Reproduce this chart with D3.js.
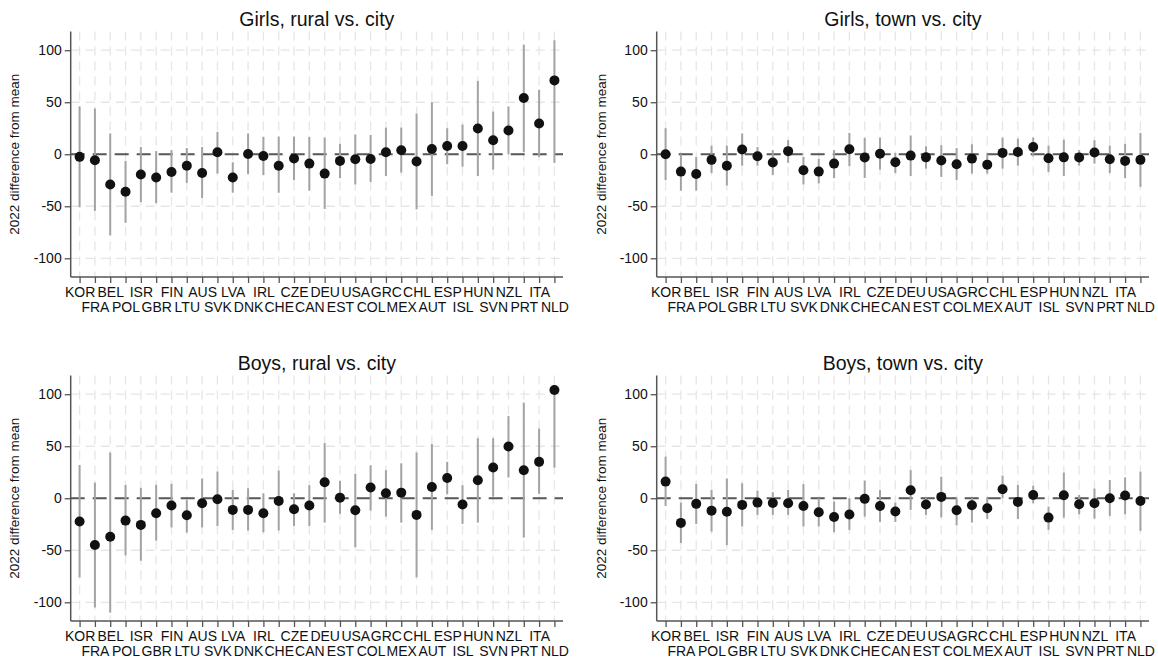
<!DOCTYPE html>
<html>
<head>
<meta charset="utf-8">
<script src="https://cdn.jsdelivr.net/npm/d3@7"></script>
<style>
  html, body { margin: 0; padding: 0; background: #fff; }
  svg { display: block; font-family: "Liberation Sans", Arial, Helvetica, sans-serif; }
</style>
</head>
<body>
<svg id="chart" width="1158" height="661"></svg>
<script>
// Countries in plotting order (same order in every panel)
const countries = ["KOR","FRA","BEL","POL","ISR","GBR","FIN","LTU","AUS","SVK","LVA","DNK","IRL","CHE","CZE","CAN",
                   "DEU","EST","USA","COL","GRC","MEX","CHL","AUT","ESP","ISL","HUN","SVN","NZL","PRT","ITA","NLD"];

const yTicks = [-100, -50, 0, 50, 100];

// Girls, rural vs. city: point estimate with lower / upper bounds
const girlsRuralEst = [-2.5, -5.8, -29, -36, -19.5, -22.4, -17, -11, -18, 2, -22.4, 0.3, -1.6, -11, -4, -9,
                       -18.6, -6.4, -4.8, -4.5, 2, 3.8, -7, 5, 8, 8, 24.7, 13.5, 22.8, 54, 29.5, 71];
const girlsRuralLo  = [-51, -54.5, -78, -66, -46, -47, -37, -27.5, -42, -18.6, -37, -19, -20, -37, -25, -35,
                       -52.6, -23, -29, -26.6, -21, -17.6, -53, -40, -9.6, -12, -21, -14.7, 0, 2.2, -2.6, -8.3];
const girlsRuralHi  = [46, 44, 20, -6.4, 7, 3, 4, 6, 7, 21.5, -7.7, 20, 16.7, 17, 17, 16.7,
                       16, 10, 19, 18.6, 25.6, 25.6, 39, 50, 25, 28.5, 70.5, 41, 46, 105.4, 62, 109.6];

// Girls, town vs. city
const girlsTownEst = [0, -16.7, -19, -5.4, -11, 4.5, -2, -8, 3, -15.4, -16.7, -9, 4.8, -3.2, 0.4, -7.7,
                      -1.3, -3, -6, -9.6, -4.2, -10, 1.3, 2.2, 7, -3.8, -3, -3.2, 1.6, -4.8, -6.4, -5.4];
const girlsTownLo  = [-25, -35, -35, -18, -30, -11, -11, -20, -8.3, -29, -28, -23, -11.5, -22.8, -14.7, -18,
                      -21, -13.8, -21.8, -25, -18.6, -18.6, -13.8, -11, -2, -17, -20.8, -11, -9, -18, -23, -31.4];
const girlsTownHi  = [25, 0, -2.6, 8.3, 8.3, 20, 7, 4, 13.5, -2.6, -4.5, 4, 20.5, 15.7, 16, 1.3,
                      18, 7.7, 8.7, 6, 9.6, 0, 16, 15, 16, 8.3, 14, 4, 13.5, 8.3, 10, 20.5];

// Boys, rural vs. city
const boysRuralEst = [-22.4, -45, -37, -21.5, -25.6, -14.4, -7, -16.3, -4.8, -1, -11.2, -11.2, -14.4, -2.6, -10.6, -7,
                      15.4, 0.6, -11.5, 10.3, 4.8, 5.4, -16, 10.9, 19.5, -6, 17.3, 29.5, 49.7, 27, 35, 104];
const boysRuralLo  = [-76, -105, -110, -55, -60, -40.7, -28, -33, -28, -26.6, -30.4, -31, -32.7, -31, -26.6, -26.6,
                      -23.4, -15, -47, -11.9, -17.6, -23.4, -76, -30.4, 3.8, -24.7, -23.4, 1.6, 20, -37.8, 4.2, 29.5];
const boysRuralHi  = [32, 15, 44, 12.8, 10, 12.8, 13.8, -1.6, 19, 25.6, 8, 9.6, 4.8, 26.6, 4.8, 12.5,
                      53, 16.7, 23.4, 31.7, 27, 33.6, 44, 52, 35, 12.5, 57.7, 57.7, 79, 92, 67, 109];

// Boys, town vs. city
const boysTownEst = [16, -23.7, -5.4, -11.9, -13, -6.4, -4.2, -4.5, -4.8, -7.4, -13.5, -18, -15.7, -0.6, -7.4, -12.8,
                     7.7, -6, 1.3, -11.5, -6.7, -9.6, 8.7, -3.5, 3.2, -18.6, 2.9, -5.8, -4.8, 0, 2.6, -2.6];
const boysTownLo  = [-7.4, -43, -24.7, -32, -45, -27, -16, -16, -16, -27, -27, -32.7, -30.4, -17.6, -23, -22.8,
                     -11.2, -16, -18.3, -26, -23.4, -20, 0, -19.9, -4.8, -30.4, -18.6, -15.4, -19.6, -17, -15.4, -31.4];
const boysTownHi  = [40, -4.2, 13.8, 8, 19, 14.4, 7.4, 5.8, 8, 13.5, 0, -3.2, 0, 17, 8, -4.2,
                     27, 0.6, 20.8, 0.6, 0, 0.6, 21.8, 12.8, 12, -8, 24.7, 3.2, 9.3, 17.6, 20, 25.6];

const panels = [
  { title: "Girls, rural vs. city", est: girlsRuralEst, lo: girlsRuralLo, hi: girlsRuralHi, x0: 70.7,  y0: 31.5 },
  { title: "Girls, town vs. city",  est: girlsTownEst,  lo: girlsTownLo,  hi: girlsTownHi,  x0: 656.7, y0: 31.5 },
  { title: "Boys, rural vs. city",  est: boysRuralEst,  lo: boysRuralLo,  hi: boysRuralHi,  x0: 70.7,  y0: 375.5 },
  { title: "Boys, town vs. city",   est: boysTownEst,   lo: boysTownLo,   hi: boysTownHi,   x0: 656.7, y0: 375.5 }
];

const plotW = 492.3, plotH = 245.5;
const FONT = "'Liberation Sans', Arial, Helvetica, sans-serif";
const svg = d3.select("#chart");

panels.forEach(p => {
  const g = svg.append("g").attr("transform", `translate(${p.x0},${p.y0})`);
  const x = d3.scaleLinear().domain([-0.58, countries.length - 1 + 0.56]).range([0, plotW]);
  const y = d3.scaleLinear().domain([-118, 118]).range([plotH, 0]);

  // grid: dashed light lines at every country and at every y tick
  g.append("g").selectAll("line").data(countries).join("line")
    .attr("x1", (d, i) => x(i)).attr("x2", (d, i) => x(i))
    .attr("y1", 0).attr("y2", plotH)
    .attr("stroke", "#e6e6e6").attr("stroke-width", 1.3)
    .attr("stroke-dasharray", "9,6");
  g.append("g").selectAll("line").data(yTicks.filter(t => t !== 0)).join("line")
    .attr("x1", 0).attr("x2", plotW)
    .attr("y1", d => y(d)).attr("y2", d => y(d))
    .attr("stroke", "#e6e6e6").attr("stroke-width", 1.3)
    .attr("stroke-dasharray", "9,6");

  // reference line at zero
  g.append("line")
    .attr("x1", 0).attr("x2", plotW)
    .attr("y1", y(0)).attr("y2", y(0))
    .attr("stroke", "#575757").attr("stroke-width", 2)
    .attr("stroke-dasharray", "14,8");

  // confidence intervals
  g.append("g").selectAll("line").data(countries).join("line")
    .attr("x1", (d, i) => x(i)).attr("x2", (d, i) => x(i))
    .attr("y1", (d, i) => y(p.lo[i])).attr("y2", (d, i) => y(p.hi[i]))
    .attr("stroke", "#a3a3a3").attr("stroke-width", 2);

  // point estimates
  g.append("g").selectAll("circle").data(countries).join("circle")
    .attr("cx", (d, i) => x(i)).attr("cy", (d, i) => y(p.est[i]))
    .attr("r", 5).attr("fill", "#111");

  // y axis (plain hyphen for negative labels)
  const yAxis = d3.axisLeft(y).tickValues(yTicks).tickSize(6).tickPadding(3).tickFormat(d => String(d));
  const ya = g.append("g").call(yAxis);
  ya.select(".domain").attr("stroke", "#555").attr("stroke-width", 1.5).attr("d", `M0,${plotH}V0`);
  ya.selectAll(".tick line").attr("stroke", "#555").attr("stroke-width", 1.3);
  ya.selectAll(".tick text").attr("font-size", 14).attr("fill", "#111").attr("font-family", FONT);

  // x axis with labels staggered over two rows
  const xAxis = d3.axisBottom(x).tickValues(d3.range(countries.length)).tickSize(6)
    .tickFormat(i => countries[i]);
  const xa = g.append("g").attr("transform", `translate(0,${plotH})`).call(xAxis);
  xa.select(".domain").attr("stroke", "#555").attr("stroke-width", 1.5).attr("d", `M0,0H${plotW}`);
  xa.selectAll(".tick line").attr("stroke", "#555").attr("stroke-width", 1.3);
  xa.selectAll(".tick text")
    .attr("font-size", 14).attr("fill", "#111").attr("font-family", FONT)
    .attr("dy", null)
    .attr("y", i => i % 2 === 0 ? 20 : 34.5);

  // y axis title
  g.append("text")
    .attr("transform", `translate(${-55.7},${plotH / 2}) rotate(-90)`)
    .attr("text-anchor", "middle").attr("dominant-baseline", "central")
    .attr("font-size", 13.5).attr("fill", "#111")
    .text("2022 difference from mean");

  // panel title
  g.append("text")
    .attr("x", plotW / 2).attr("y", -6)
    .attr("text-anchor", "middle")
    .attr("font-size", 19.5).attr("fill", "#111")
    .text(p.title);
});
</script>
</body>
</html>
